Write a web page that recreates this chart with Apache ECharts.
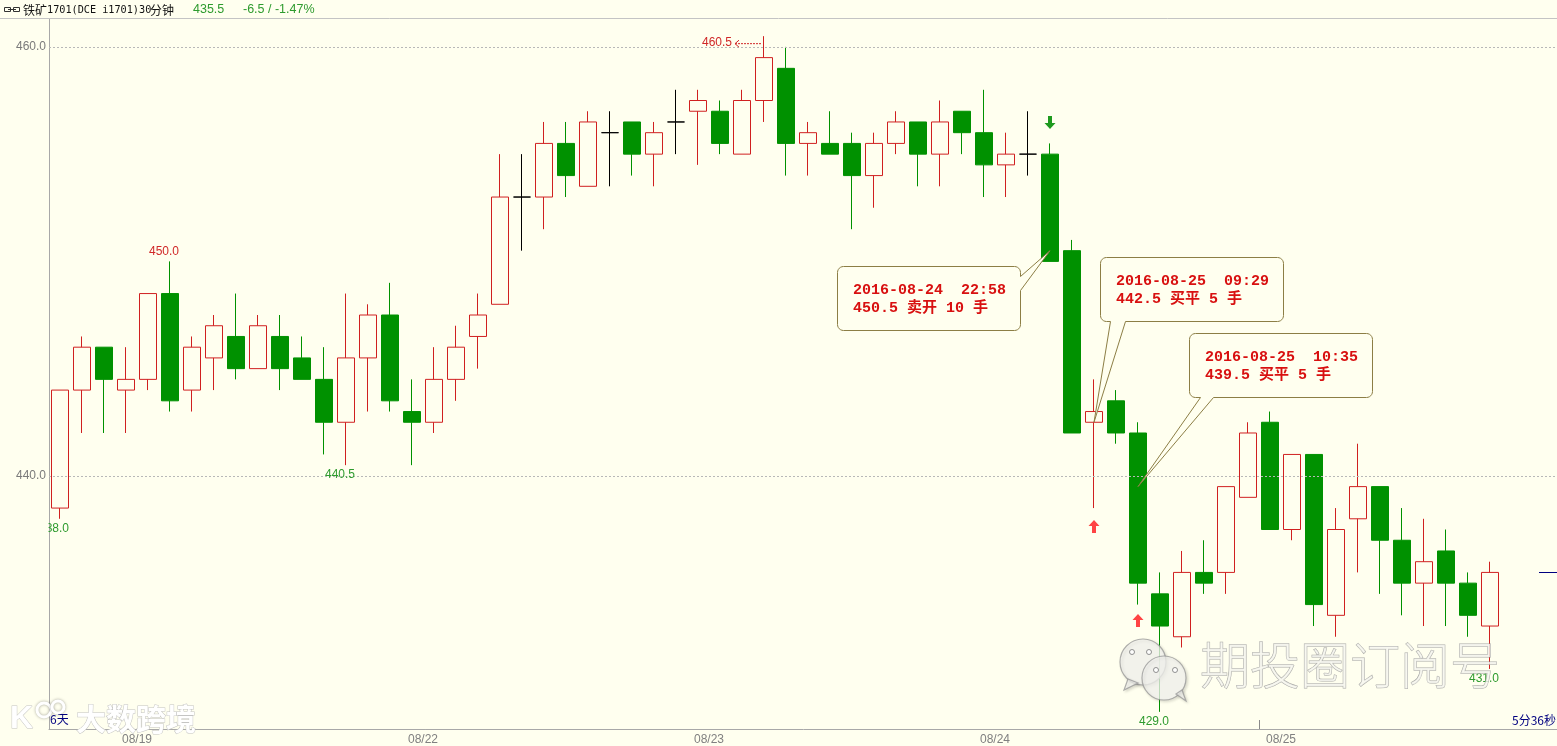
<!DOCTYPE html>
<html><head><meta charset="utf-8">
<script src="https://cdn.jsdelivr.net/npm/echarts@6/dist/echarts.min.js"></script>
<style>html,body{margin:0;padding:0;background:#FFFFEF;}#c{width:1557px;height:746px;}</style>
</head><body><div id="c"></div>
<script>
// ---- data (30-minute bars, 铁矿1701) ----
const opens  = [438.5,444,446,444,444.5,448.5,444,445.5,446.5,445,446.5,445.5,444.5,442.5,445.5,447.5,443,442.5,444.5,446.5,
                448,453,453,455.5,453.5,456,456.5,455,456.5,457,457,455,457.5,459,455.5,455.5,455.5,454,455.5,456.5,
                455,457,456,454.5,455,455,450.5,442.5,443.5,442,434.5,432.5,435.5,435.5,439,442.5,437.5,441,433.5,438,
                439.5,437,435,436.5,435,433];
const closes = [444,446,444.5,444.5,448.5,443.5,446,447,445,447,445,444.5,442.5,445.5,447.5,443.5,442.5,444.5,446,447.5,
                453,453,455.5,454,456.5,456,455,456,456.5,457.5,455.5,457.5,459.5,455.5,456,455,454,455.5,456.5,455,
                456.5,456,454.5,455,455,450,442,443,442,435,433,435.5,435,439.5,442,437.5,441,434,437.5,439.5,
                437,435,436,435,433.5,435.5];
const lows   = [438,442,442,442,444,443,443,444,444.5,445,444,444.5,441,440.5,443,443,440.5,442,443.5,445,
                448,450.5,451.5,453,453.5,453.5,454,453.5,455,454.5,455,455,456.5,454,454,455,451.5,452.5,455,453.5,
                453.5,455,453,453,454,450,442,438.5,441.5,434,429,432,434.5,434.5,439,437.5,437,433,432.5,435.5,
                434.5,433.5,433,433,432.5,431];
const highs  = [444,446.5,446,446,448.5,450,446.5,447.5,448.5,447.5,447.5,446.5,446,448.5,448,449,444.5,446,447,448.5,
                455,455,456.5,456.5,457,457,456.5,456.5,458,458,457.5,458,460.5,460,456.5,457,456,456,457,456.5,
                457.5,457,458,456,457,455.5,451,444.5,444,442.5,435.5,436.5,437,439.5,442.5,443,441,441,438.5,441.5,
                439.5,438.5,438,437.5,435.5,436];
const totalSlots = 69;                       // 66 bars + 3 empty slots on the right
const dayLabels   = ['08/19','08/22','08/23','08/24','08/25'];
const dayStartIdx = [3,16,29,42,55];
const gridValues  = [460,440];               // dashed price lines / y tick labels
const lowLabelIdx  = [0,13,50,65];
const highLabelIdx = [5];
const maxIdx = 32;                           // 460.5 with arrow
const calloutIdx   = [45,47,49];
const calloutPrice = [450.5,442.5,439.5];
const calloutTime  = ['2016-08-24  22:58','2016-08-25  09:29','2016-08-25  10:35'];
const calloutText  = ['450.5 卖开 10 手','442.5 买平 5 手','439.5 买平 5 手'];
const sellArrowIdx = [45];
const buyArrowIdx  = [47,49];
const headerName = ['铁矿','1701(DCE i1701)30','分钟'];
const headerPrice = '435.5';
const headerChange = '-6.5 / -1.47%';

const bg = '#FFFFEF';
const RED = '#D02020', GREEN = '#009100';
const categories = Array.from({length: totalSlots}, (_, i) => 'b' + i);
const kdata = opens.map((o, i) => [o, closes[i], lows[i], highs[i]]);

const chart = echarts.init(document.getElementById('c'), null, {renderer: 'canvas'});
chart.setOption({
  animation: false,
  backgroundColor: bg,
  grid: {left: 49, right: -10, top: 19, bottom: 17, outerBoundsMode: 'none', containLabel: false},
  xAxis: {
    type: 'category', data: categories, boundaryGap: true,
    axisLine: {show: true, lineStyle: {color: '#A8A8A8', width: 1}},
    axisTick: {show: false},
    axisLabel: {
      interval: 0, margin: 5, color: '#808080', fontSize: 12, fontFamily: 'Liberation Sans',
      padding: [0, 0, 0, 22],
      formatter: (v, i) => { const k = dayStartIdx.indexOf(i); return k >= 0 ? dayLabels[k] : ''; }
    },
    splitLine: {show: false}
  },
  yAxis: {
    type: 'value', min: 428.2, max: 461.3, scale: true,
    axisLine: {show: true, lineStyle: {color: '#A8A8A8', width: 1}},
    axisTick: {show: false}, axisLabel: {show: false}, splitLine: {show: false}
  },
  series: [{
    type: 'candlestick', data: kdata, barWidth: 18,
    itemStyle: {color: bg, color0: GREEN, borderColor: RED, borderColor0: GREEN,
                borderColorDoji: '#000000', borderWidth: 1},
    markLine: {
      silent: true, symbol: ['none', 'none'],
      lineStyle: {type: [2, 2], color: '#B8B8B8', width: 1},
      label: {position: 'start', distance: 3, color: '#7A7A7A', fontSize: 12,
              fontFamily: 'Liberation Sans', formatter: p => Number(p.value).toFixed(1)},
      data: gridValues.map(v => ({yAxis: v}))
    }
  }]
});

function px(i, v) { return chart.convertToPixel({seriesIndex: 0}, [i, v]); }

function calloutPoints(x, y, w, h, r, tail) {
  const pts = [];
  const arc = (cx, cy, a0, a1) => { for (let k = 0; k <= 6; k++) { const a = a0 + (a1 - a0) * k / 6; pts.push([cx + r * Math.cos(a), cy + r * Math.sin(a)]); } };
  arc(x + r, y + r, Math.PI, 1.5 * Math.PI);
  arc(x + w - r, y + r, 1.5 * Math.PI, 2 * Math.PI);
  if (tail.side === 'right') pts.push([x + w, y + tail.a], [tail.tx, tail.ty], [x + w, y + tail.b]);
  arc(x + w - r, y + h - r, 0, 0.5 * Math.PI);
  if (tail.side === 'bottom') pts.push([x + tail.b, y + h], [tail.tx, tail.ty], [x + tail.a, y + h]);
  arc(x + r, y + h - r, 0.5 * Math.PI, Math.PI);
  return pts;
}

const g = [];
const txt = (x, y, text, fill, font, align, z) => g.push({type: 'text', silent: true, z: z || 20,
  style: {x, y, text, fill, font, textAlign: align || 'left', textVerticalAlign: 'middle'}});

// header
g.push({type: 'line', silent: true, z: 5, shape: {x1: 0, y1: 18.5, x2: 1557, y2: 18.5}, style: {stroke: '#C4C4C4', lineWidth: 1}});
g.push({type: 'rect', silent: true, z: 20, shape: {x: 4.5, y: 7.5, width: 6, height: 4}, style: {fill: 'none', stroke: '#333', lineWidth: 1}});
g.push({type: 'rect', silent: true, z: 20, shape: {x: 13.5, y: 7.5, width: 6, height: 4}, style: {fill: 'none', stroke: '#333', lineWidth: 1}});
g.push({type: 'line', silent: true, z: 20, shape: {x1: 8, y1: 9.5, x2: 16, y2: 9.5}, style: {stroke: '#333', lineWidth: 1}});
txt(23, 10, headerName[0], '#111', '12px "Noto Sans CJK SC"');
txt(47, 10, headerName[1], '#111', '10.2px "DejaVu Sans Mono"');
txt(150, 10, headerName[2], '#111', '12px "Noto Sans CJK SC"');
txt(193, 10, headerPrice, '#2E9B2E', '12.5px "Liberation Sans"');
txt(243, 10, headerChange, '#2E9B2E', '12.5px "Liberation Sans"');

// day-boundary tick of the current day
{ const k = dayStartIdx[dayStartIdx.length - 1];
  const xb = Math.round((px(k, 440)[0] + px(k - 1, 440)[0]) / 2) + 0.5;
  const yb = px(k, 428.2)[1];
  g.push({type: 'line', silent: true, z: 20, shape: {x1: xb, y1: yb - 9, x2: xb, y2: yb}, style: {stroke: '#8A8A8A', lineWidth: 1}}); }

// low / high labels
lowLabelIdx.forEach(i => { const p = px(i, lows[i]); txt(p[0] - 6, p[1] + 9.5, lows[i].toFixed(1), '#2E9B2E', '12px "Liberation Sans"', 'center'); });
highLabelIdx.forEach(i => { const p = px(i, highs[i]); txt(p[0] - 6, p[1] - 9.5, highs[i].toFixed(1), '#D02828', '12px "Liberation Sans"', 'center'); });
{ const p = px(maxIdx, highs[maxIdx]); const yy = p[1] + 7;
  txt(p[0] - 32, yy, highs[maxIdx].toFixed(1), '#D02828', '12px "Liberation Sans"', 'right');
  g.push({type: 'line', silent: true, z: 20, shape: {x1: p[0] - 29, y1: yy + 0.5, x2: p[0] - 2, y2: yy + 0.5}, style: {stroke: '#D02828', lineWidth: 1, lineDash: [2, 1]}});
  g.push({type: 'polyline', silent: true, z: 20, shape: {points: [[p[0] - 25, yy - 3], [p[0] - 29, yy + 0.5], [p[0] - 25, yy + 4]]}, style: {stroke: '#D02828', lineWidth: 1, fill: 'none'}});
}
// cover the part of the first low label left of the axis
g.push({type: 'rect', silent: true, z: 21, shape: {x: 0, y: px(0, lows[0])[1] + 1, width: 48.5, height: 17}, style: {fill: bg}});

// arrows
const arrowPts = (cx, ty, dir) => { const s = dir; return [[cx, ty], [cx + 5.5, ty + 6 * s], [cx + 2, ty + 6 * s], [cx + 2, ty + 13 * s], [cx - 2, ty + 13 * s], [cx - 2, ty + 6 * s], [cx - 5.5, ty + 6 * s]]; };
sellArrowIdx.forEach(i => { const p = px(i, highs[i]); g.push({type: 'polygon', silent: true, z: 20, shape: {points: arrowPts(p[0], p[1] - 14.5, -1)}, style: {fill: '#1E9A1E'}}); });
buyArrowIdx.forEach((i, k) => { const p = px(i, lows[i]); g.push({type: 'polygon', silent: true, z: 20, shape: {points: arrowPts(p[0], p[1] + (k === 0 ? 12 : 9.5), 1)}, style: {fill: '#FF4444'}}); });

// callouts
const layouts = [
  {dx: -213, dy: 15, side: 'right', a: 10, b: 24},
  {dx: 6, dy: -165, side: 'bottom', a: 10, b: 25},
  {dx: 51, dy: -154, side: 'bottom', a: 11, b: 24}
];
calloutIdx.forEach((i, k) => {
  const t = px(i, calloutPrice[k]); const L = layouts[k];
  const bx = Math.round(t[0] + L.dx) + 0.5, by = Math.round(t[1] + L.dy) + 0.5;
  g.push({type: 'polygon', silent: true, z: 22,
    shape: {points: calloutPoints(bx, by, 183, 64, 6, {side: L.side, a: L.a, b: L.b, tx: t[0], ty: t[1]})},
    style: {fill: bg, stroke: '#8C7E45', lineWidth: 1}});
  txt(bx + 15.5, by + 23.5, calloutTime[k], '#D81010', 'bold 15px "Liberation Mono", "Noto Sans CJK SC"', 'left', 23);
  txt(bx + 15.5, by + 41.5, calloutText[k], '#D81010', 'bold 15px "Liberation Mono", "Noto Sans CJK SC"', 'left', 23);
});

// last price marker at right edge
{ const p = px(opens.length - 1, closes[closes.length - 1]);
  g.push({type: 'line', silent: true, z: 20, shape: {x1: 1539, y1: Math.round(p[1]) + 0.5, x2: 1557, y2: Math.round(p[1]) + 0.5}, style: {stroke: '#000080', lineWidth: 1}}); }

txt(50, 719, '6天', '#000080', '12px "Noto Sans CJK SC"');
txt(1556, 720, '5分36秒', '#000080', '12px "Noto Sans CJK SC"', 'right');

// watermarks
const wmStyle = {fill: 'rgba(248,248,244,0.75)', stroke: 'rgba(150,150,150,0.75)', lineWidth: 1.2, shadowColor: 'rgba(0,0,0,0.18)', shadowBlur: 3, shadowOffsetX: 1.5, shadowOffsetY: 1.5};
g.push({type: 'circle', silent: true, z: 30, shape: {cx: 1143, cy: 662, r: 23}, style: Object.assign({}, wmStyle)});
g.push({type: 'polygon', silent: true, z: 30, shape: {points: [[1128, 679], [1124, 690], [1138, 683]]}, style: Object.assign({}, wmStyle)});
g.push({type: 'circle', silent: true, z: 31, shape: {cx: 1164, cy: 678, r: 22}, style: Object.assign({}, wmStyle)});
g.push({type: 'polygon', silent: true, z: 31, shape: {points: [[1176, 694], [1186, 701], [1182, 690]]}, style: Object.assign({}, wmStyle)});
[[1132, 652], [1149, 652], [1156, 670], [1175, 670]].forEach(e => g.push({type: 'circle', silent: true, z: 32, shape: {cx: e[0], cy: e[1], r: 2.5}, style: {fill: 'rgba(255,255,255,0.9)', stroke: 'rgba(120,120,120,0.8)', lineWidth: 1}}));
g.push({type: 'text', silent: true, z: 30, style: {x: 1200, y: 665, text: '期投圈订阅号', font: '300 50px "Noto Sans CJK SC"', fill: 'rgba(246,246,240,0.8)', stroke: 'rgba(150,150,150,0.8)', lineWidth: 1, textVerticalAlign: 'middle', shadowColor: 'rgba(0,0,0,0.2)', shadowBlur: 3, shadowOffsetX: 2, shadowOffsetY: 2}});
g.push({type: 'text', silent: true, z: 30, style: {x: 76, y: 719, text: '大数跨境', font: 'bold 30px "Noto Sans CJK SC"', fill: '#FFFFFF', stroke: 'rgba(190,190,190,0.9)', lineWidth: 1, textVerticalAlign: 'middle', shadowColor: 'rgba(0,0,0,0.35)', shadowBlur: 4, shadowOffsetX: 1, shadowOffsetY: 1}});
g.push({type: 'text', silent: true, z: 30, style: {x: 10, y: 719, text: 'K', font: 'bold 32px "Liberation Sans"', fill: '#FFFFFF', stroke: 'rgba(190,190,190,0.9)', lineWidth: 1, textVerticalAlign: 'middle', shadowColor: 'rgba(0,0,0,0.35)', shadowBlur: 4, shadowOffsetX: 1, shadowOffsetY: 1}});
[[44, 710, 7], [58, 707, 6]].forEach(c => g.push({type: 'circle', silent: true, z: 30, shape: {cx: c[0], cy: c[1], r: c[2]}, style: {fill: 'none', stroke: '#FFFFFF', lineWidth: 3, shadowColor: 'rgba(0,0,0,0.35)', shadowBlur: 3}}));

chart.setOption({graphic: g});
</script></body></html>
